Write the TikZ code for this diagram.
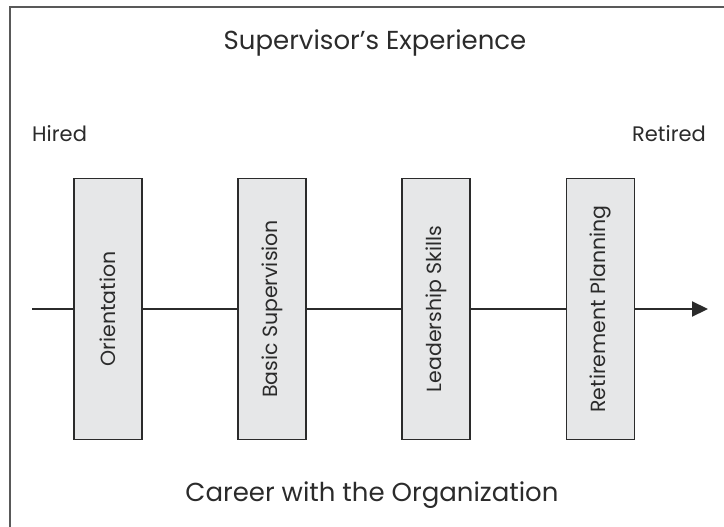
\documentclass[tikz,border=0pt]{standalone}
\usepackage{fontspec}
\setmainfont{Poppins}
\usetikzlibrary{positioning,arrows.meta}
\definecolor{boxgray}{HTML}{E6E7E8}
\definecolor{inkgray}{HTML}{2B2B2B}
\tikzset{
    stage/.style={draw=inkgray, fill=boxgray, line width=1.2pt, rotate=90,
        minimum width=261pt, minimum height=68pt, inner sep=0pt,
        text=inkgray, font=\fontsize{20.5}{20.5}\selectfont},
    timeline/.style={draw=inkgray, line width=2.2pt},
    caption/.style={text=inkgray, inner sep=0pt, anchor=base}
}

\begin{document}
\begin{tikzpicture}[x=1pt,y=-1pt]
\useasboundingbox (0,0) rectangle (724,527);
\draw[line width=1.5pt, draw=gray!70!black] (10,527) -- (10,7) -- (724,7);

\node[caption, font=\fontsize{26}{26}\selectfont] (title) at (375,50) {Supervisor’s Experience};
\node[caption, anchor=base west, font=\fontsize{21}{21}\selectfont] (hired) at (32,142) {Hired};
\node[caption, anchor=base east, font=\fontsize{21}{21}\selectfont] (retired) at (706,142) {Retired};
\node[caption, font=\fontsize{26}{26}\selectfont] (career) at (372,501) {Career with the Organization};

\coordinate (start) at (32,309);
\coordinate (finish) at (708,309);

\node[stage] (orient) at (108,309) {Orientation};
\node[stage] (basic) at (272,309) {Basic Supervision};
\node[stage] (lead) at (436,309) {Leadership Skills};
\node[stage] (retire) at (600.5,309) {Retirement Planning};

\draw[timeline] (start) -- (orient);
\draw[timeline] (orient) -- (basic);
\draw[timeline] (basic) -- (lead);
\draw[timeline] (lead) -- (retire);
\draw[timeline, -{Triangle[length=16pt, width=15pt]}] (retire) -- (finish);
\end{tikzpicture}
\end{document}
